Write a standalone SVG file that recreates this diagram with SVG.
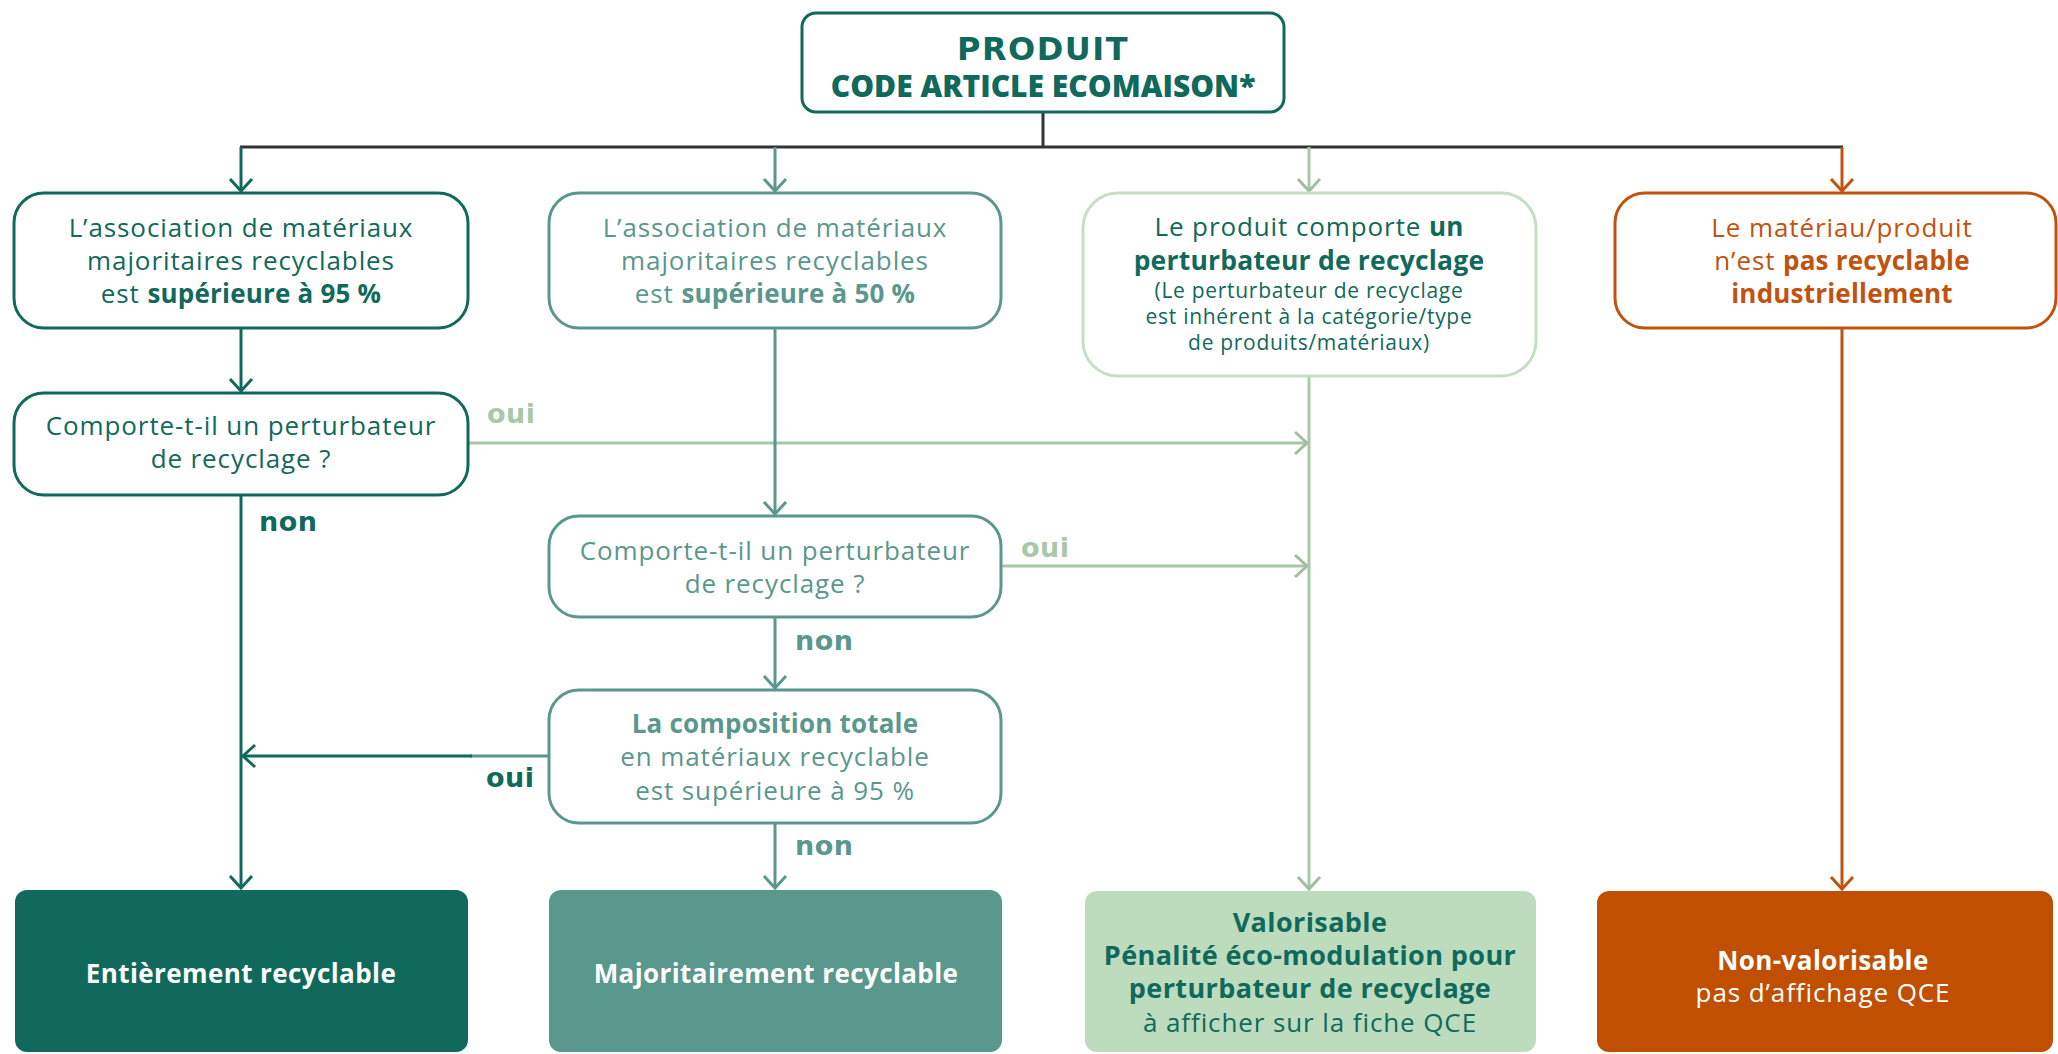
<svg xmlns="http://www.w3.org/2000/svg" width="2058" height="1054" viewBox="0 0 2058 1054">
<defs>
<style>
.t{font-family:"Open Sans","Liberation Sans",sans-serif;font-size:26px;letter-spacing:0.9px;text-anchor:middle}
.b{font-weight:700;font-size:26px;letter-spacing:0.2px}
.sm{font-size:21px;letter-spacing:0.7px}
.f{font-weight:700;font-size:26px;letter-spacing:0.4px}
.lbl{font-family:"DejaVu Sans","Liberation Sans",sans-serif;font-weight:700;font-size:27px;letter-spacing:0.5px}
.dk{fill:#11695c}.tl{fill:#5a978d}.lg{fill:#a9c8a9}.or{fill:#c0540f}.wh{fill:#ffffff}
.box{fill:#ffffff;stroke-width:3}
.res{stroke:none}
.c{fill:none;stroke-width:3}
.cdk{stroke:#11695c}.ctl{stroke:#5a978d}.clg{stroke:#a8c8a8}.cor{stroke:#c0540f}.cgr{stroke:#333333}
</style>
<marker id="aDk" markerUnits="userSpaceOnUse" markerWidth="30" markerHeight="30" viewBox="0 0 30 30" refX="16" refY="15" orient="auto" overflow="visible"><path d="M4,4 L16,15 L4,26" fill="none" stroke="#11695c" stroke-width="3"/></marker>
<marker id="aTl" markerUnits="userSpaceOnUse" markerWidth="30" markerHeight="30" viewBox="0 0 30 30" refX="16" refY="15" orient="auto" overflow="visible"><path d="M4,4 L16,15 L4,26" fill="none" stroke="#5a978d" stroke-width="3"/></marker>
<marker id="aLg" markerUnits="userSpaceOnUse" markerWidth="30" markerHeight="30" viewBox="0 0 30 30" refX="16" refY="15" orient="auto" overflow="visible"><path d="M4,4 L16,15 L4,26" fill="none" stroke="#9fbf9f" stroke-width="3"/></marker>
<marker id="aOr" markerUnits="userSpaceOnUse" markerWidth="30" markerHeight="30" viewBox="0 0 30 30" refX="16" refY="15" orient="auto" overflow="visible"><path d="M4,4 L16,15 L4,26" fill="none" stroke="#c0540f" stroke-width="3"/></marker>
</defs>
<rect width="2058" height="1054" fill="#ffffff"/>

<g id="connectors">
<path class="c cgr" d="M1043 112 V147"/>
<path class="c cgr" d="M240 147 H1843"/>
<path class="c cdk" d="M241 147 V191" marker-end="url(#aDk)"/>
<path class="c ctl" d="M775 147 V191" marker-end="url(#aTl)"/>
<path class="c clg" d="M1309 147 V191" marker-end="url(#aLg)"/>
<path class="c cor" d="M1842 147 V191" marker-end="url(#aOr)"/>
<path class="c cdk" d="M241 328 V391" marker-end="url(#aDk)"/>
<path class="c cdk" d="M241 495 V888" marker-end="url(#aDk)"/>
<path class="c clg" d="M468 443 H1307" marker-end="url(#aLg)"/>
<path class="c ctl" d="M775 328 V514" marker-end="url(#aTl)"/>
<path class="c clg" d="M1001 566 H1307" marker-end="url(#aLg)"/>
<path class="c ctl" d="M775 617 V688" marker-end="url(#aTl)"/>
<path class="c ctl" d="M549 756 H470"/>
<path class="c cdk" d="M472 756 H243" marker-end="url(#aDk)"/>
<path class="c ctl" d="M775 823 V888" marker-end="url(#aTl)"/>
<path class="c clg" d="M1309 376 V889" marker-end="url(#aLg)"/>
<path class="c cor" d="M1842 328 V889" marker-end="url(#aOr)"/>
<text class="lbl lg" x="487" y="423">oui</text>
<text class="lbl dk" x="259" y="531">non</text>
<text class="lbl lg" x="1021" y="557">oui</text>
<text class="lbl tl" x="795" y="650">non</text>
<text class="lbl dk" x="486" y="787">oui</text>
<text class="lbl tl" x="795" y="855">non</text>
</g>

<g id="produit">
<rect class="box" x="802" y="13" width="482" height="99" rx="14" stroke="#11695c" stroke-width="3.5"/>
<text x="1043" y="60" text-anchor="middle" class="dk" style="font-family:'DejaVu Sans',sans-serif;font-weight:700;font-size:32px;letter-spacing:1.5px">PRODUIT</text>
<text x="1043" y="97" text-anchor="middle" class="dk" style="font-family:'Open Sans',sans-serif;font-weight:800;font-size:30px">CODE ARTICLE ECOMAISON*</text>
</g>

<g id="q95">
<rect class="box" x="14" y="193" width="454" height="135" rx="30" stroke="#11695c"/>
<text class="t dk" x="241" y="237">L’association de matériaux</text>
<text class="t dk" x="241" y="270">majoritaires recyclables</text>
<text class="t dk" x="241" y="303">est <tspan class="b">supérieure à 95 %</tspan></text>
</g>

<g id="q50">
<rect class="box" x="549" y="193" width="452" height="135" rx="30" stroke="#5a978d"/>
<text class="t tl" x="775" y="237">L’association de matériaux</text>
<text class="t tl" x="775" y="270">majoritaires recyclables</text>
<text class="t tl" x="775" y="303">est <tspan class="b">supérieure à 50 %</tspan></text>
</g>

<g id="qperturb">
<rect class="box" x="1083" y="193" width="453" height="183" rx="35" stroke="#c6dec6"/>
<text class="t dk" x="1309" y="236">Le produit comporte <tspan class="b">un</tspan></text>
<text class="t dk b" x="1309" y="270" style="font-size:26.5px">perturbateur de recyclage</text>
<text class="t dk sm" x="1309" y="298">(Le perturbateur de recyclage</text>
<text class="t dk sm" x="1309" y="324">est inhérent à la catégorie/type</text>
<text class="t dk sm" x="1309" y="350">de produits/matériaux)</text>
</g>

<g id="qnonrecyc">
<rect class="box" x="1615" y="193" width="441" height="135" rx="30" stroke="#c0540f"/>
<text class="t or" x="1842" y="237">Le matériau/produit</text>
<text class="t or" x="1842" y="270">n’est <tspan class="b">pas recyclable</tspan></text>
<text class="t or b" x="1842" y="303">industriellement</text>
</g>

<g id="qA2">
<rect class="box" x="14" y="393" width="454" height="102" rx="30" stroke="#11695c"/>
<text class="t dk" x="241" y="435">Comporte-t-il un perturbateur</text>
<text class="t dk" x="241" y="468">de recyclage ?</text>
</g>

<g id="qB2">
<rect class="box" x="549" y="516" width="452" height="101" rx="30" stroke="#5a978d"/>
<text class="t tl" x="775" y="560">Comporte-t-il un perturbateur</text>
<text class="t tl" x="775" y="593">de recyclage ?</text>
</g>

<g id="qB3">
<rect class="box" x="549" y="690" width="452" height="133" rx="30" stroke="#5a978d"/>
<text class="t tl b" x="775" y="733">La composition totale</text>
<text class="t tl" x="775" y="766">en matériaux recyclable</text>
<text class="t tl" x="775" y="800">est supérieure à 95 %</text>
</g>

<g id="r1">
<rect class="res" x="15" y="890" width="453" height="162" rx="12" fill="#11695c"/>
<text class="t f wh" x="241" y="983">Entièrement recyclable</text>
</g>

<g id="r2">
<rect class="res" x="549" y="890" width="453" height="162" rx="12" fill="#5a978d"/>
<text class="t f wh" x="776" y="983">Majoritairement recyclable</text>
</g>

<g id="r3">
<rect class="res" x="1085" y="891" width="451" height="161" rx="12" fill="#bddbbd"/>
<text class="t f dk" x="1310" y="932" style="font-size:27px">Valorisable</text>
<text class="t f dk" x="1310" y="965" style="font-size:27px">Pénalité éco-modulation pour</text>
<text class="t f dk" x="1310" y="998" style="font-size:27px">perturbateur de recyclage</text>
<text class="t dk" x="1310" y="1032">à afficher sur la fiche QCE</text>
</g>

<g id="r4">
<rect class="res" x="1597" y="891" width="456" height="161" rx="12" fill="#c04f02"/>
<text class="t f wh" x="1823" y="970">Non-valorisable</text>
<text class="t wh" x="1823" y="1002">pas d’affichage QCE</text>
</g>
</svg>
